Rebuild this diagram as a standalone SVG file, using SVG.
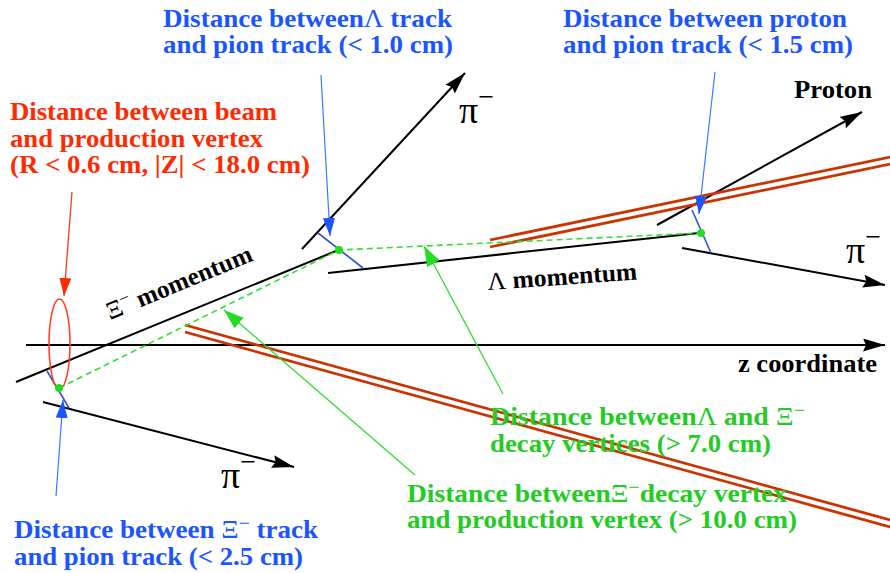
<svg xmlns="http://www.w3.org/2000/svg" width="890" height="573" viewBox="0 0 890 573">
<style>
.t{font-family:"Liberation Serif","DejaVu Serif",serif;font-weight:bold;font-size:25px}
.blue{fill:#1a55ff}
.red{fill:#ff2a00}
.green{fill:#22cc22}
.blk{fill:#000}
.pi{font-family:"Liberation Serif","DejaVu Serif",serif;font-size:38px;fill:#000}
.sym{font-weight:normal}
.trk{stroke:#000;stroke-width:2;fill:none}
.dca{stroke:#2f55c8;stroke-width:1.6;fill:none}
.bl{stroke:#3a78ff;stroke-width:1.2;fill:none}
.rl{stroke:#ff3a1a;stroke-width:1.3;fill:none}
.gl{stroke:#33dd33;stroke-width:1.3;fill:none}
.gd{stroke:#33dd33;stroke-width:1.6;stroke-dasharray:6,4;fill:none}
.dbl{stroke:#cc3300;stroke-width:2.8;fill:none}
</style>
<defs>
<marker id="ak" markerUnits="userSpaceOnUse" markerWidth="24" markerHeight="14" refX="22" refY="6.5" orient="auto"><path d="M0,0 L22,6.5 L0,13 L3,6.5 z" fill="#000"/></marker>
<marker id="ab" markerUnits="userSpaceOnUse" markerWidth="20" markerHeight="14" refX="18" refY="6" orient="auto"><path d="M0,0 L18,6 L0,12 z" fill="#1a55ff"/></marker>
<marker id="ar" markerUnits="userSpaceOnUse" markerWidth="20" markerHeight="14" refX="18" refY="6" orient="auto"><path d="M0,0 L18,6 L0,12 z" fill="#ff2a00"/></marker>
<marker id="ag" markerUnits="userSpaceOnUse" markerWidth="22" markerHeight="16" refX="20" refY="7" orient="auto"><path d="M0,0 L20,7 L0,14 z" fill="#22dd22"/></marker>
</defs>

<g id="connectors">
  <line class="trk" x1="26" y1="345" x2="885" y2="345" marker-end="url(#ak)"/>
  <line class="trk" x1="16" y1="382" x2="336" y2="251"/>
  <line class="trk" x1="328" y1="273" x2="699" y2="233"/>
  <line class="trk" x1="43" y1="402" x2="294" y2="467" marker-end="url(#ak)"/>
  <line class="trk" x1="302" y1="249" x2="465" y2="73" marker-end="url(#ak)"/>
  <line class="trk" x1="657" y1="225" x2="862" y2="112" marker-end="url(#ak)"/>
  <line class="trk" x1="682" y1="248" x2="885" y2="285" marker-end="url(#ak)"/>
  <line class="dbl" x1="490" y1="240" x2="890" y2="157"/>
  <line class="dbl" x1="490" y1="247" x2="890" y2="164"/>
  <line class="dbl" x1="185" y1="325" x2="890" y2="520"/>
  <line class="dbl" x1="185" y1="332" x2="890" y2="527"/>
  <line class="dca" x1="47" y1="371" x2="69" y2="408"/>
  <line class="dca" x1="318" y1="233" x2="363" y2="268"/>
  <line class="dca" x1="692" y1="210" x2="711" y2="253"/>
  <polyline class="gd" points="59,388 339,250 701,233"/>
  <ellipse cx="59.5" cy="344" rx="10.5" ry="45" fill="none" stroke="#ff3a1a" stroke-width="1.5"/>
  <line class="rl" x1="72" y1="192" x2="64" y2="296" marker-end="url(#ar)"/>
  <line class="bl" x1="321" y1="75" x2="330" y2="236" marker-end="url(#ab)"/>
  <line class="bl" x1="715" y1="72" x2="699" y2="214" marker-end="url(#ab)"/>
  <line class="bl" x1="56" y1="496" x2="63" y2="400" marker-end="url(#ab)"/>
  <line class="gl" x1="503" y1="394" x2="424" y2="246" marker-end="url(#ag)"/>
  <line class="gl" x1="415" y1="475" x2="224" y2="310" marker-end="url(#ag)"/>
</g>

<g id="vertex-production"><circle cx="59" cy="388" r="4" fill="#22dd22"/></g>
<g id="vertex-xi-decay"><circle cx="339" cy="250" r="4" fill="#22dd22"/></g>
<g id="vertex-lambda-decay"><circle cx="701" cy="233" r="4" fill="#22dd22"/></g>

<g id="label-lambda-pion">
  <text class="t blue" x="163" y="27" textLength="289" lengthAdjust="spacingAndGlyphs">Distance between<tspan class="sym">Λ</tspan> track</text>
  <text class="t blue" x="163" y="53" textLength="290" lengthAdjust="spacingAndGlyphs">and pion track (&lt; 1.0 cm)</text>
</g>
<g id="label-proton-pion">
  <text class="t blue" x="563" y="27" textLength="284" lengthAdjust="spacingAndGlyphs">Distance between proton</text>
  <text class="t blue" x="563" y="53" textLength="290" lengthAdjust="spacingAndGlyphs">and pion track (&lt; 1.5 cm)</text>
</g>
<g id="label-beam">
  <text class="t red" x="10" y="120" textLength="267" lengthAdjust="spacingAndGlyphs">Distance between beam</text>
  <text class="t red" x="10" y="147" textLength="253" lengthAdjust="spacingAndGlyphs">and production vertex</text>
  <text class="t red" x="10" y="173" textLength="300" lengthAdjust="spacingAndGlyphs">(R &lt; 0.6 cm, |Z| &lt; 18.0 cm)</text>
</g>
<g id="label-xi-pion">
  <text class="t blue" x="14" y="538" textLength="304" lengthAdjust="spacingAndGlyphs">Distance between <tspan class="sym">Ξ</tspan><tspan class="sym" dy="-9" font-size="18">−</tspan><tspan dy="9"> track</tspan></text>
  <text class="t blue" x="14" y="565" textLength="289" lengthAdjust="spacingAndGlyphs">and pion track (&lt; 2.5 cm)</text>
</g>
<g id="label-decay-vertices">
  <text class="t green" x="490" y="425" textLength="315" lengthAdjust="spacingAndGlyphs">Distance between<tspan class="sym">Λ</tspan> and <tspan class="sym">Ξ</tspan><tspan class="sym" dy="-9" font-size="18">−</tspan></text>
  <text class="t green" x="490" y="452" textLength="281" lengthAdjust="spacingAndGlyphs">decay vertices (&gt; 7.0 cm)</text>
</g>
<g id="label-xi-production">
  <text class="t green" x="407" y="502" textLength="380" lengthAdjust="spacingAndGlyphs">Distance between<tspan class="sym">Ξ</tspan><tspan class="sym" dy="-9" font-size="18">−</tspan><tspan dy="9">decay vertex</tspan></text>
  <text class="t green" x="407" y="528" textLength="390" lengthAdjust="spacingAndGlyphs">and production vertex (&gt; 10.0 cm)</text>
</g>

<g id="label-proton"><text class="t blk" x="794" y="98" textLength="78" lengthAdjust="spacingAndGlyphs">Proton</text></g>
<g id="label-z"><text class="t blk" x="738" y="372" textLength="139" lengthAdjust="spacingAndGlyphs">z coordinate</text></g>
<g id="label-lambda-momentum"><text class="t blk" x="488" y="290" transform="rotate(-4 488 290)" textLength="150" lengthAdjust="spacingAndGlyphs"><tspan class="sym">Λ</tspan> momentum</text></g>
<g id="label-xi-momentum"><text class="t blk" x="110" y="320" transform="rotate(-22.5 110 320)" textLength="156" lengthAdjust="spacingAndGlyphs"><tspan class="sym">Ξ</tspan><tspan class="sym" dy="-9" font-size="18">−</tspan><tspan dy="9"> momentum</tspan></text></g>

<g id="label-pi-1"><text class="pi" x="459" y="123">π<tspan dy="-17" font-size="28">−</tspan></text></g>
<g id="label-pi-2"><text class="pi" x="846" y="263">π<tspan dy="-17" font-size="28">−</tspan></text></g>
<g id="label-pi-3"><text class="pi" x="221" y="488">π<tspan dy="-17" font-size="28">−</tspan></text></g>
</svg>
